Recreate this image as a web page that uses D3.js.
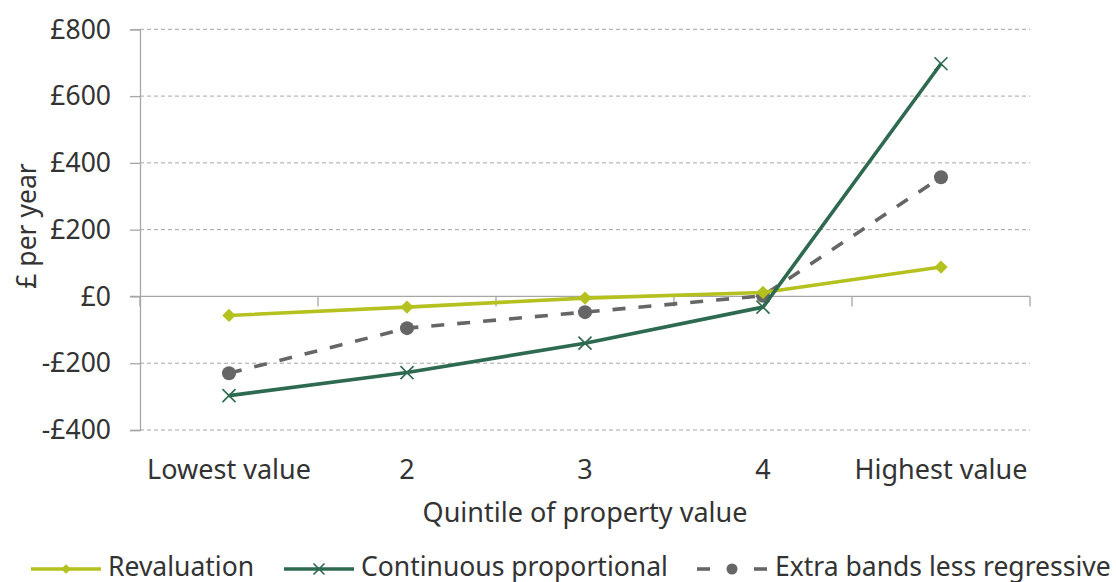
<!DOCTYPE html>
<html>
<head>
<meta charset="utf-8">
<script src="https://cdn.jsdelivr.net/npm/d3@7"></script>
<style>
  html, body { margin: 0; padding: 0; background: #fff; }
  svg { display: block; }
  text { font-family: "Noto Sans", "Open Sans", sans-serif; fill: #333; }
</style>
</head>
<body>
<svg id="chart" width="1116" height="582"></svg>
<script>
const categories = ["Lowest value", "2", "3", "4", "Highest value"];
const revaluation = [-57, -32, -5, 12, 88];
const continuousProportional = [-297, -228, -140, -32, 697];
const extraBands = [-230, -95, -47, 2, 357];
const yTicks = [-400, -200, 0, 200, 400, 600, 800];
const seriesNames = ["Revaluation", "Continuous proportional", "Extra bands less regressive"];
const xTitle = "Quintile of property value";
const yTitle = "£ per year";

const series = [
  { name: seriesNames[0], values: revaluation, color: "#b4c11e", dash: null, marker: "diamond" },
  { name: seriesNames[1], values: continuousProportional, color: "#2d6a4f", dash: null, marker: "cross" },
  { name: seriesNames[2], values: extraBands, color: "#666666", dash: "13,13", marker: "circle" }
];

const svg = d3.select("#chart");
const plotLeft = 140, plotRight = 1030, plotTop = 29.3, plotBottom = 430;
const x = d3.scaleBand().domain(categories).range([plotLeft, plotRight]);
const y = d3.scaleLinear().domain([-400, 800]).range([plotBottom, plotTop]);
const cx = c => x(c) + x.bandwidth() / 2;
const fmt = v => (v < 0 ? "-£" : "£") + Math.abs(v);

// gridlines
svg.append("g").selectAll("line").data(yTicks.filter(t => t !== 0)).join("line")
  .attr("x1", plotLeft).attr("x2", plotRight)
  .attr("y1", d => y(d)).attr("y2", d => y(d))
  .attr("stroke", "#a6a6a6").attr("stroke-width", 1).attr("stroke-dasharray", "4,3");

// y axis
const yAxis = d3.axisLeft(y).tickValues(yTicks).tickFormat(fmt).tickSize(10).tickPadding(19);
const gy = svg.append("g").attr("transform", `translate(${plotLeft},0)`).call(yAxis);
gy.select(".domain").attr("stroke", "#a6a6a6").attr("stroke-width", 1.3);
gy.selectAll(".tick line").attr("stroke", "#a6a6a6").attr("stroke-width", 1.3);
gy.selectAll(".tick text").style("font-size", "26.5px").attr("fill", "#333")
  .style("font-family", '"Noto Sans", sans-serif').attr("dy", "0.33em");

// x axis at zero
svg.append("line").attr("x1", plotLeft - 10).attr("x2", plotRight)
  .attr("y1", y(0)).attr("y2", y(0)).attr("stroke", "#a6a6a6").attr("stroke-width", 1.3);
const boundaries = categories.map(c => x(c)).concat([plotRight]);
svg.append("g").selectAll("line").data(boundaries).join("line")
  .attr("x1", d => d).attr("x2", d => d)
  .attr("y1", y(0)).attr("y2", y(0) + 10)
  .attr("stroke", "#a6a6a6").attr("stroke-width", 1.3);

// x tick labels
svg.append("g").selectAll("text").data(categories).join("text")
  .attr("x", d => cx(d)).attr("y", 479)
  .attr("text-anchor", "middle").style("font-size", "27px").text(d => d);

// axis titles
svg.append("text").attr("x", 585).attr("y", 522).attr("text-anchor", "middle")
  .style("font-size", "27px").text(xTitle);
svg.append("text").attr("transform", "translate(36,226) rotate(-90)")
  .attr("text-anchor", "middle").style("font-size", "26.5px").text(yTitle);

// markers
function drawMarker(g, type, color, size) {
  if (type === "diamond") {
    g.append("path").attr("d", d3.symbol(d3.symbolDiamond2, size * size * 0.5)())
      .attr("fill", color);
  } else if (type === "circle") {
    g.append("circle").attr("r", size / 2).attr("fill", color);
  } else {
    const h = size / 2;
    g.append("path").attr("d", `M${-h},${-h}L${h},${h}M${-h},${h}L${h},${-h}`)
      .attr("stroke", color).attr("stroke-width", 1.6).attr("fill", "none");
  }
}

const markerSize = { diamond: 15, circle: 14, cross: 13 };
const line = d3.line().x((d, i) => cx(categories[i])).y(d => y(d));
const order = [2, 0, 1];
order.forEach(k => {
  const s = series[k];
  svg.append("path").datum(s.values).attr("d", line)
    .attr("fill", "none").attr("stroke", s.color).attr("stroke-width", 3.6)
    .attr("stroke-dasharray", s.dash).attr("stroke-linejoin", "round");
  s.values.forEach((v, i) => {
    const g = svg.append("g").attr("transform", `translate(${cx(categories[i])},${y(v)})`);
    drawMarker(g, s.marker, s.color, markerSize[s.marker]);
  });
});

// legend
const legendItems = [
  { s: series[0], x0: 31, x1: 101, tx: 108 },
  { s: series[1], x0: 284, x1: 354, tx: 361 },
  { s: series[2], x0: 697, x1: 767, tx: 775 }
];
const ly = 569;
legendItems.forEach(it => {
  const g = svg.append("g");
  if (it.s.dash) {
    g.append("line").attr("x1", it.x0).attr("x2", it.x0 + 13).attr("y1", ly).attr("y2", ly)
      .attr("stroke", it.s.color).attr("stroke-width", 3.6);
    g.append("line").attr("x1", it.x1 - 13).attr("x2", it.x1).attr("y1", ly).attr("y2", ly)
      .attr("stroke", it.s.color).attr("stroke-width", 3.6);
  } else {
    g.append("line").attr("x1", it.x0).attr("x2", it.x1).attr("y1", ly).attr("y2", ly)
      .attr("stroke", it.s.color).attr("stroke-width", 3.6);
  }
  const mg = g.append("g").attr("transform", `translate(${(it.x0 + it.x1) / 2},${ly})`);
  drawMarker(mg, it.s.marker, it.s.color, 11);
  g.append("text").attr("x", it.tx).attr("y", 575.5).style("font-size", "26.5px").text(it.s.name);
});
</script>
</body>
</html>
